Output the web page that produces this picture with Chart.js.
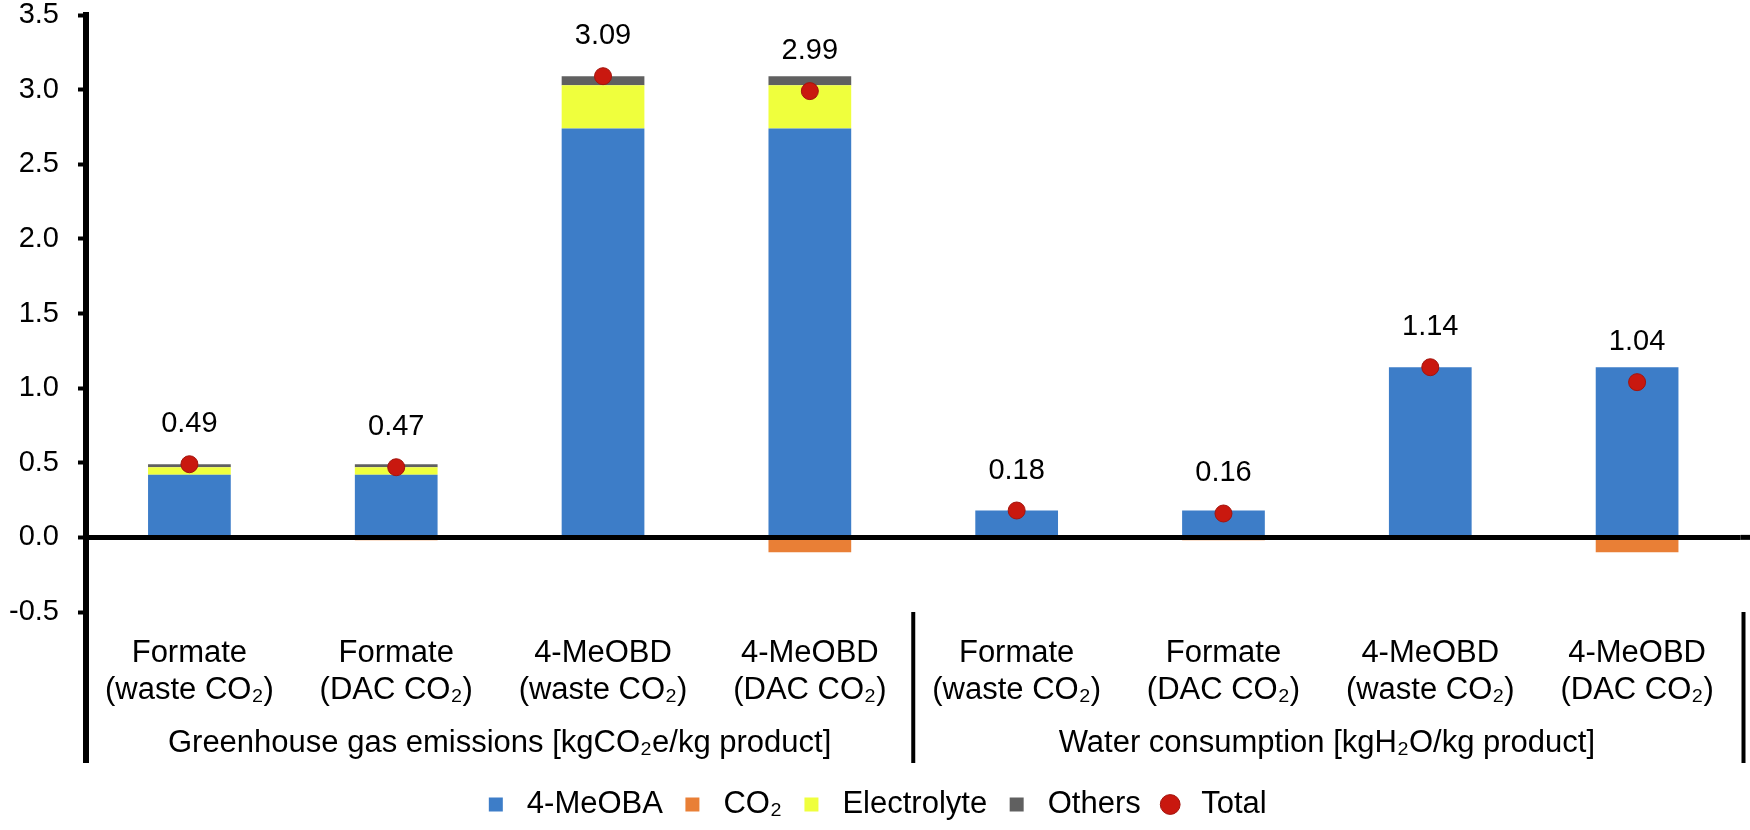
<!DOCTYPE html>
<html>
<head>
<meta charset="utf-8">
<script src="https://cdn.jsdelivr.net/npm/chart.js@4.4.1/dist/chart.umd.min.js"></script>
<style>
  html, body { margin: 0; padding: 0; background: #fff; }
  #wrap { width: 1750px; height: 830px; }
</style>
</head>
<body>
<div id="wrap"><canvas id="chart"></canvas></div>
<script>
const categories = [
  ['Formate', '(waste CO₂)'],
  ['Formate', '(DAC CO₂)'],
  ['4-MeOBD', '(waste CO₂)'],
  ['4-MeOBD', '(DAC CO₂)'],
  ['Formate', '(waste CO₂)'],
  ['Formate', '(DAC CO₂)'],
  ['4-MeOBD', '(waste CO₂)'],
  ['4-MeOBD', '(DAC CO₂)']
];
const groups = [
  'Greenhouse gas emissions [kgCO₂e/kg product]',
  'Water consumption [kgH₂O/kg product]'
];
const meoba = [0.42, 0.42, 2.74, 2.74, 0.18, 0.18, 1.14, 1.14];
const co2 = [0, -0.02, 0, -0.10, 0, -0.02, 0, -0.10];
const electrolyte = [0.05, 0.05, 0.29, 0.29, 0, 0, 0, 0];
const others = [0.02, 0.02, 0.06, 0.06, 0, 0, 0, 0];
const totals = [0.49, 0.47, 3.09, 2.99, 0.18, 0.16, 1.14, 1.04];
const yMin = -0.5, yMax = 3.5, yStep = 0.5;

const FONT = 'Liberation Sans, Arial, sans-serif';
const FS = 29;   // ticks and value labels
const FS2 = 31;  // category, group and legend text

// separators, group names and total labels
const extras = {
  id: 'extras',
  afterDatasetsDraw(chart) {
    const { ctx, chartArea, scales: { x } } = chart;
    const low = chartArea.bottom + 151;
    const step = x.getPixelForValue(1) - x.getPixelForValue(0);
    const mid = x.getPixelForValue(3) + step / 2;
    ctx.save();
    ctx.strokeStyle = '#000';
    [[chartArea.left, 6], [mid, 4], [chartArea.right + 3, 4]].forEach(([px, w]) => {
      ctx.lineWidth = w;
      ctx.beginPath();
      ctx.moveTo(px, chartArea.bottom);
      ctx.lineTo(px, low);
      ctx.stroke();
    });
    // zero line runs out to the right edge
    ctx.lineWidth = 5;
    ctx.beginPath();
    ctx.moveTo(chartArea.right, chart.scales.y.getPixelForValue(0));
    ctx.lineTo(chart.width, chart.scales.y.getPixelForValue(0));
    ctx.stroke();

    ctx.fillStyle = '#000';
    ctx.textAlign = 'center';
    ctx.textBaseline = 'middle';
    ctx.font = FS2 + 'px ' + FONT;
    ctx.fillText(groups[0], (chartArea.left + mid) / 2, chartArea.bottom + 131);
    ctx.fillText(groups[1], (mid + chartArea.right) / 2, chartArea.bottom + 131);

    ctx.font = FS + 'px ' + FONT;
    const meta = chart.getDatasetMeta(4);
    meta.data.forEach((pt, i) => {
      ctx.fillText(totals[i].toFixed(2), pt.x, pt.y - 40);
    });
    ctx.restore();
  }
};

const canvas = document.getElementById('chart');
new Chart(canvas, {
  type: 'bar',
  data: {
    labels: categories,
    datasets: [
      { label: '4-MeOBA', data: meoba, backgroundColor: '#3D7DC8', pointStyle: 'rect', order: 1 },
      { label: 'CO₂', data: co2, backgroundColor: '#E97F36', pointStyle: 'rect', order: 1 },
      { label: 'Electrolyte', data: electrolyte, backgroundColor: '#EFFF3D', pointStyle: 'rect', order: 1 },
      { label: 'Others', data: others, backgroundColor: '#606060', pointStyle: 'rect', order: 1 },
      {
        type: 'line', label: 'Total', data: totals, stack: 'total', order: 0,
        showLine: false, pointStyle: 'circle', pointRadius: 8.5,
        backgroundColor: '#C9180F', borderColor: '#A3140D', borderWidth: 1
      }
    ]
  },
  options: {
    responsive: true,
    maintainAspectRatio: false,
    animation: false,
    layout: { padding: { top: 0, right: 3, left: 0, bottom: 0 } },
    datasets: { bar: { barPercentage: 0.4, categoryPercentage: 1.0, borderWidth: 0 } },
    scales: {
      x: {
        stacked: true,
        grid: { display: false },
        border: { display: false },
        ticks: { color: '#000', font: { family: FONT, size: FS2 }, padding: 15, maxRotation: 0, autoSkip: false },
        afterFit: (s) => { s.height = 163; }
      },
      y: {
        stacked: true,
        min: yMin, max: yMax,
        border: { color: '#000', width: 6 },
        grid: {
          color: (c) => c.tick && c.tick.value === 0 ? '#000' : 'rgba(0,0,0,0)',
          lineWidth: 5,
          tickColor: '#000', tickWidth: 4, tickLength: 8
        },
        ticks: {
          stepSize: yStep, color: '#000', padding: 19,
          font: { family: FONT, size: FS },
          callback: (v) => v.toFixed(1)
        },
        afterFit: (s) => { s.width = 86; s.paddingTop = 15; }
      }
    },
    plugins: {
      tooltip: { enabled: false },
      legend: {
        position: 'bottom',
        labels: {
          usePointStyle: true, boxHeight: 14, padding: 14, color: '#000',
          font: { family: FONT, size: FS2 },
          sort: (a, b) => a.datasetIndex - b.datasetIndex
        }
      }
    }
  },
  plugins: [extras]
});
</script>
</body>
</html>
